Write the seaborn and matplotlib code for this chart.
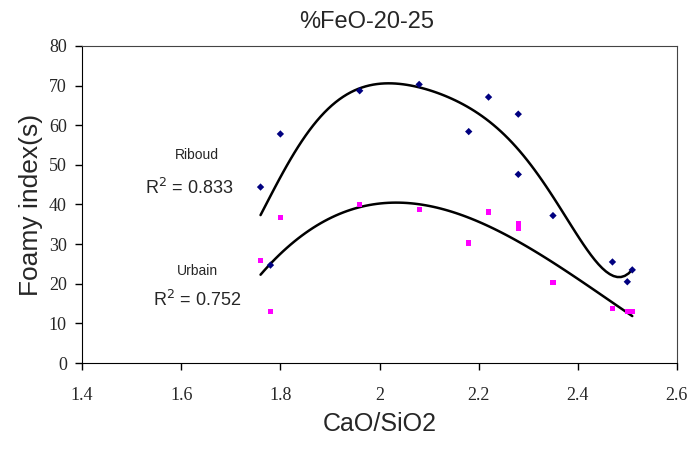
import numpy as np
import pandas as pd
import matplotlib
matplotlib.use("Agg")
import matplotlib.pyplot as plt
import seaborn as sns

# ==========================
# DATA
# ==========================

basicity = [1.76, 1.78, 1.80, 1.96, 2.08, 2.18, 2.22, 2.28, 2.28, 2.35, 2.47, 2.50, 2.51]
riboud = [44.4, 24.7, 57.8, 68.7, 70.3, 58.4, 67.1, 62.8, 47.6, 37.2, 25.5, 20.5, 23.5]
urbain = [25.9, 12.9, 36.7, 39.9, 38.7, 30.3, 38.1, 35.3, 34.0, 20.4, 13.7, 12.9, 13.1]

x_ticks = [1.4, 1.6, 1.8, 2.0, 2.2, 2.4, 2.6]
x_tick_labels = ["1.4", "1.6", "1.8", "2", "2.2", "2.4", "2.6"]
y_ticks = [0, 10, 20, 30, 40, 50, 60, 70, 80]

df = pd.DataFrame({"basicity": basicity, "riboud": riboud, "urbain": urbain})

# ==========================
# PLOT
# ==========================

sns.set_style("ticks")
fig = plt.figure(figsize=(6.9, 4.49), dpi=100)
ax = fig.add_axes([0.119, 0.1915, 0.862, 0.7061])

# polynomial trendlines (order 6 -> R2 0.833, order 3 -> R2 0.752)
sns.regplot(data=df, x="basicity", y="riboud", order=6, ci=None, scatter=False,
            truncate=True, ax=ax, line_kws=dict(color="black", lw=1.8))
sns.regplot(data=df, x="basicity", y="urbain", order=3, ci=None, scatter=False,
            truncate=True, ax=ax, line_kws=dict(color="black", lw=1.8))

sns.scatterplot(data=df, x="basicity", y="riboud", marker="D", color="#000080",
                s=14, edgecolor="none", ax=ax, zorder=3)
sns.scatterplot(data=df, x="basicity", y="urbain", marker="s", color="#FF00FF",
                s=14, edgecolor="none", ax=ax, zorder=3)

ax.set_xlim(1.4, 2.6)
ax.set_ylim(0, 80)
ax.set_xticks(x_ticks)
ax.set_xticklabels(x_tick_labels, fontfamily="Liberation Serif", fontsize=13)
ax.set_yticks(y_ticks)
ax.set_yticklabels([str(v) for v in y_ticks], fontfamily="Liberation Serif", fontsize=13)
ax.tick_params(direction="out", length=5, width=1, color="black", pad=6)
ax.tick_params(axis="x", pad=12)

for side in ["top", "right"]:
    ax.spines[side].set_visible(True)
    ax.spines[side].set_color("#444444")
for side in ["left", "bottom"]:
    ax.spines[side].set_color("black")

ax.set_xlabel("CaO/SiO2", fontfamily="Liberation Sans", fontsize=18, labelpad=6)
ax.set_ylabel("Foamy index(s)", fontfamily="Liberation Sans", fontsize=19, labelpad=4)

fig.text(367 / 690, 1 - 22 / 449, "%FeO-20-25", ha="center", va="center",
         fontfamily="Liberation Sans", fontsize=17)

# annotations (in pixel coords of the figure)
def fig_text(px, py, s, size):
    fig.text(px / 690, 1 - py / 449, s, ha="center", va="center",
             fontfamily="Liberation Sans", fontsize=size)

fig_text(197, 155, "Riboud", 10)
fig_text(189, 188, "R$^2$ = 0.833", 13)
fig_text(197, 271, "Urbain", 10)
fig_text(197, 300, "R$^2$ = 0.752", 13)

plt.savefig("out.png", dpi=100)
plt.close()
